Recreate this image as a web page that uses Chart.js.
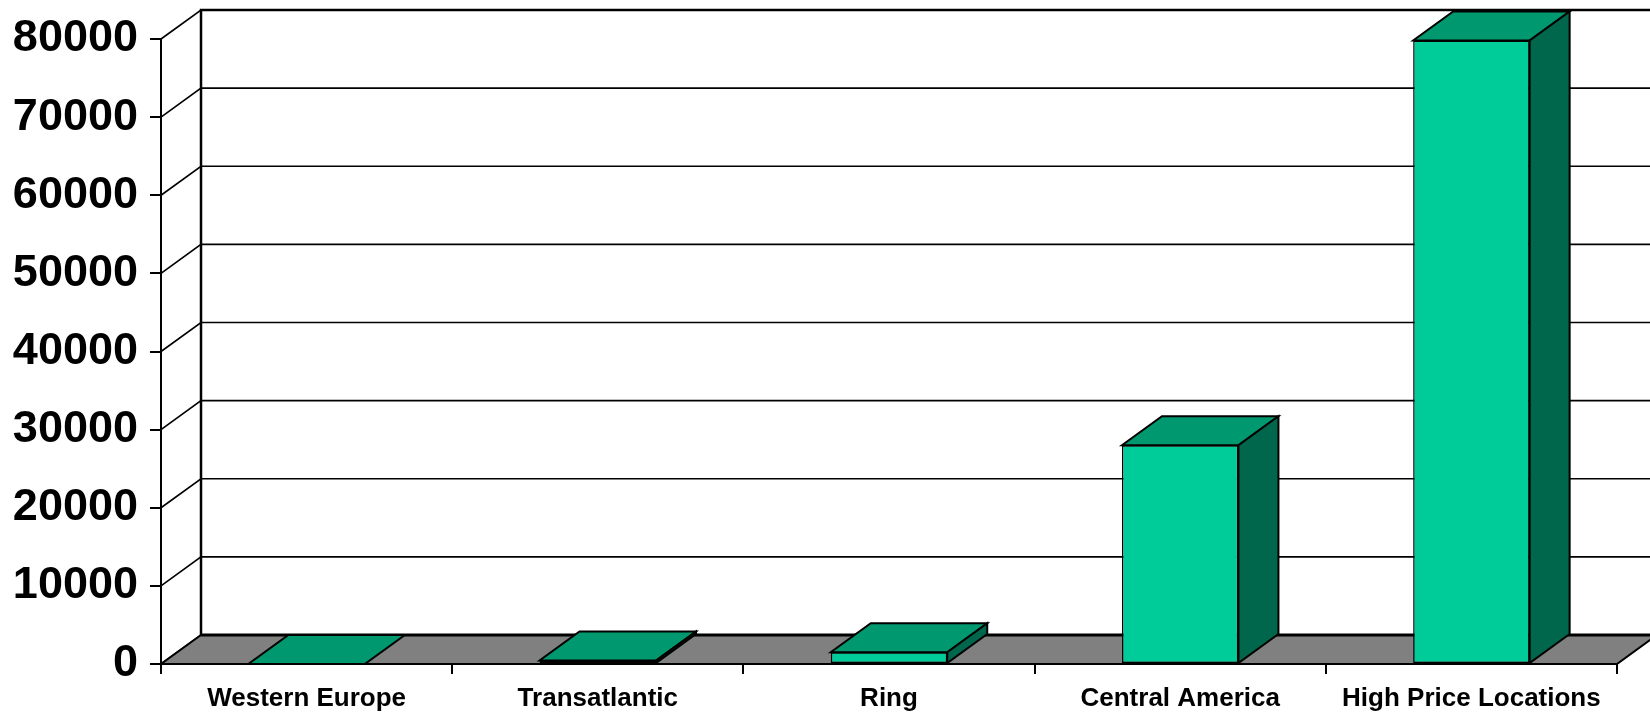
<!DOCTYPE html>
<html>
<head>
<meta charset="utf-8">
<script src="https://cdn.jsdelivr.net/npm/chart.js@4"></script>
<style>
  html,body{margin:0;padding:0;background:#fff;}
</style>
</head>
<body>
<canvas id="chart" width="1650" height="713"></canvas>
<script>
// ================= DATA =================
const categories = ["Western Europe", "Transatlantic", "Ring", "Central America", "High Price Locations"];
const values = [0, 450, 1500, 28000, 79800];
const yMax = 80000, yStep = 10000;

// ================= 3D LOOK =================
const DX = 40, DY = -29;
const FRONT = "#00CC99", TOP = "#00996F", SIDE = "#00664C", FLOOR = "#808080";

function poly(ctx, pts, fill, lw){
    ctx.beginPath();
    ctx.moveTo(pts[0][0], pts[0][1]);
    for(let i=1;i<pts.length;i++) ctx.lineTo(pts[i][0], pts[i][1]);
    ctx.closePath();
    if(fill){ ctx.fillStyle = fill; ctx.fill(); }
    ctx.lineWidth = lw || 2; ctx.strokeStyle = "#000"; ctx.stroke();
}
function line(ctx, pts, lw){
    ctx.beginPath();
    ctx.moveTo(pts[0][0], pts[0][1]);
    for(let i=1;i<pts.length;i++) ctx.lineTo(pts[i][0], pts[i][1]);
    ctx.lineWidth = lw; ctx.strokeStyle = "#000"; ctx.stroke();
}

const depth3d = {
    id: "depth3d",
    beforeDatasetsDraw(chart){
        const {ctx, chartArea:a, scales:{y}} = chart;
        ctx.save();
        // back wall
        ctx.fillStyle = "#fff";
        ctx.fillRect(a.left+DX, a.top+DY, a.right-a.left, a.bottom-a.top);
        // gridlines on side + back wall
        y.ticks.forEach(t=>{
            const py = y.getPixelForValue(t.value);
            line(ctx, [[a.left, py], [a.left+DX, py+DY], [a.right+DX, py+DY]], 1.6);
        });
        // floor
        poly(ctx, [[a.left, a.bottom], [a.right, a.bottom], [a.right+DX, a.bottom+DY], [a.left+DX, a.bottom+DY]], FLOOR, 2);
        line(ctx, [[a.left+DX, a.bottom+DY], [a.right+DX, a.bottom+DY]], 3);
        // wall edges
        line(ctx, [[a.left+DX, a.bottom+DY], [a.left+DX, a.top+DY], [a.right+DX, a.top+DY]], 2.5);
        // front axes
        line(ctx, [[a.left, a.top], [a.left, a.bottom], [a.right, a.bottom]], 2);
        ctx.restore();
    },
    afterDatasetsDraw(chart){
        const ctx = chart.ctx;
        ctx.save();
        chart.getDatasetMeta(0).data.forEach(bar=>{
            const {x, y, base, width} = bar.getProps(["x","y","base","width"], true);
            const l = x - width/2, r = x + width/2;
            poly(ctx, [[l, y], [r, y], [r+DX, y+DY], [l+DX, y+DY]], TOP, 2);
            if(base - y > 0.5) poly(ctx, [[r, y], [r+DX, y+DY], [r+DX, base+DY], [r, base]], SIDE, 2);
        });
        ctx.restore();
    }
};

// ================= CHART =================
new Chart(document.getElementById("chart").getContext("2d"), {
    type: "bar",
    data: {
        labels: categories,
        datasets: [{
            data: values,
            backgroundColor: FRONT,
            borderColor: "#000",
            borderWidth: 1.5,
            borderSkipped: false,
            categoryPercentage: 1,
            barPercentage: 0.4
        }]
    },
    options: {
        responsive: false,
        animation: false,
        layout: {padding: {top: 39, right: 33, left: 0, bottom: 0}},
        plugins: {legend: {display: false}, tooltip: {enabled: false}},
        scales: {
            x: {
                grid: {drawOnChartArea: false, drawTicks: true, tickLength: 10, color: "#000", lineWidth: 2, offset: true},
                border: {display: false},
                ticks: {color: "#000", padding: 9, maxRotation: 0, font: {family: "'Liberation Sans', Arial", size: 26, weight: "bold"}},
                afterFit: s => { s.height = 49; }
            },
            y: {
                min: 0, max: yMax,
                grid: {drawOnChartArea: false, drawTicks: true, tickLength: 11, color: "#000", lineWidth: 2},
                border: {display: false},
                ticks: {stepSize: yStep, color: "#000", padding: 12, callback: v => String(v), font: {family: "'Liberation Sans', Arial", size: 45, weight: "bold"}},
                afterFit: s => { s.width = 161; }
            }
        }
    },
    plugins: [depth3d]
});
</script>
</body>
</html>
